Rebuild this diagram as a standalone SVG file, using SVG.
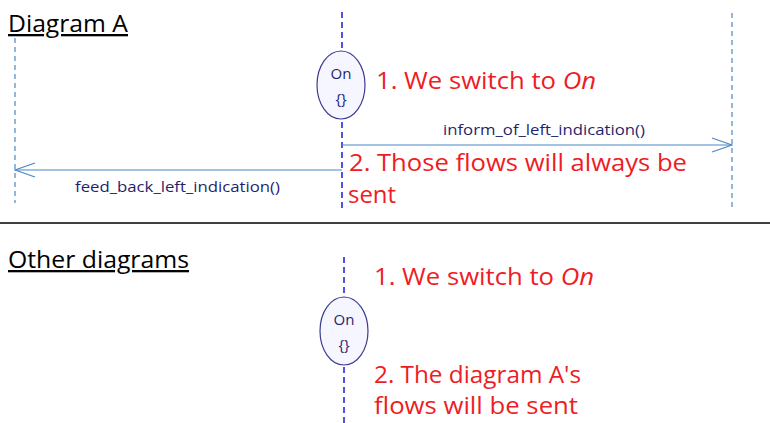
<svg xmlns="http://www.w3.org/2000/svg" width="770" height="423" viewBox="0 0 770 423">
<style>
.title{font-family:"Open Sans","Liberation Sans",sans-serif;font-size:23px;fill:#000;text-decoration:underline}
.note{font-family:"Open Sans","Liberation Sans",sans-serif;font-size:23px;fill:#ee1c25}
.lbl{font-family:"Open Sans","Liberation Sans",sans-serif;font-size:14px;fill:#1f1f6e}
.state{font-family:"Open Sans","Liberation Sans",sans-serif;font-size:15px;fill:#1f1f6e;text-anchor:middle}
.life{stroke:#4a86c5;stroke-width:1.2;stroke-dasharray:5,4;fill:none}
.lifeb{stroke:#1a1ad6;stroke-width:1.5;stroke-dasharray:6,4;fill:none}
.msg{stroke:#4a86c5;stroke-width:1.2;fill:none}
.st{fill:#f5f6ff;stroke:#3c3c8c;stroke-width:1.2}
</style>
<defs>
<marker id="open" viewBox="0 0 22 16" refX="21" refY="8" markerWidth="22" markerHeight="16" markerUnits="userSpaceOnUse" orient="auto">
<path d="M1,1 L21,8 L1,15" fill="none" stroke="#4a86c5" stroke-width="1.2"/>
</marker>
</defs>
<rect width="770" height="423" fill="#fff"/>
<text class="title" x="8" y="32" textLength="120" lengthAdjust="spacingAndGlyphs">Diagram A</text>
<line x1="0" y1="223" x2="770" y2="223" stroke="#000" stroke-width="1.5"/>
<text class="title" x="8" y="268" textLength="181" lengthAdjust="spacingAndGlyphs">Other diagrams</text>
<g id="lifelines">
<line class="life" x1="15" y1="38" x2="15" y2="203"/>
<line class="lifeb" x1="342" y1="12" x2="342" y2="208"/>
<line class="life" x1="732" y1="13" x2="732" y2="208"/>
<line class="lifeb" x1="344" y1="257" x2="344" y2="423"/>
</g>
<g id="connectors">
<line class="msg" x1="342" y1="145" x2="732" y2="145" marker-end="url(#open)"/>
<line class="msg" x1="342" y1="170" x2="15" y2="170" marker-end="url(#open)"/>
<text class="lbl" x="443" y="135" textLength="202" lengthAdjust="spacingAndGlyphs">inform_of_left_indication()</text>
<text class="lbl" x="75" y="192" textLength="205" lengthAdjust="spacingAndGlyphs">feed_back_left_indication()</text>
</g>
<g id="stateA">
<ellipse class="st" cx="341" cy="85" rx="24" ry="34"/>
<text class="state" x="341" y="79">On</text>
<text class="state" x="341" y="104">{}</text>
</g>
<g id="stateB">
<ellipse class="st" cx="344" cy="331" rx="24" ry="34"/>
<text class="state" x="344" y="325">On</text>
<text class="state" x="344" y="350">{}</text>
</g>
<g id="notes">
<text class="note" x="376" y="89" textLength="220" lengthAdjust="spacingAndGlyphs">1. We switch to <tspan font-style="italic">On</tspan></text>
<text class="note" x="349" y="171" textLength="338" lengthAdjust="spacingAndGlyphs">2. Those flows will always be</text>
<text class="note" x="348" y="203" textLength="48" lengthAdjust="spacingAndGlyphs">sent</text>
<text class="note" x="374" y="285" textLength="220" lengthAdjust="spacingAndGlyphs">1. We switch to <tspan font-style="italic">On</tspan></text>
<text class="note" x="374" y="383" textLength="207" lengthAdjust="spacingAndGlyphs">2. The diagram A's</text>
<text class="note" x="374" y="414" textLength="204" lengthAdjust="spacingAndGlyphs">flows will be sent</text>
</g>
</svg>
